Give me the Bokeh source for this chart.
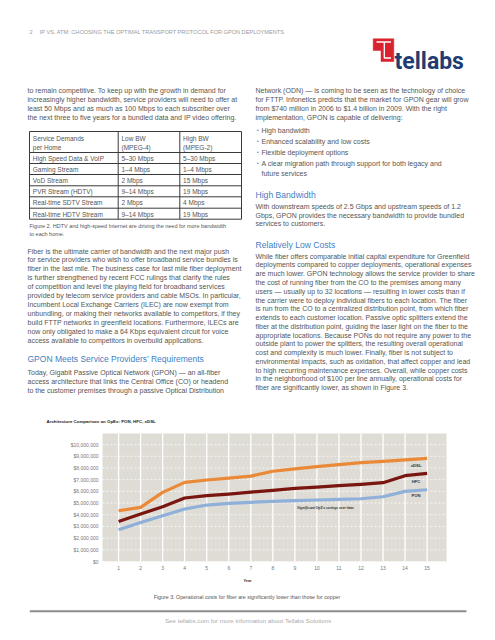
from bokeh.plotting import figure
from bokeh.models import Range1d, FixedTicker, NumeralTickFormatter
from bokeh.embed import file_html
from bokeh.resources import INLINE
from bokeh.core.properties import value

# ---------------- chart data ----------------
years = list(range(1, 16))
xdsl = [4340000, 4630000, 5910000, 6770000, 6970000, 7140000, 7300000, 7720000,
        7920000, 8110000, 8290000, 8460000, 8570000, 8690000, 8830000]
hfc = [3430000, 4060000, 4690000, 5430000, 5630000, 5770000, 5940000, 6090000,
       6260000, 6370000, 6490000, 6600000, 6740000, 7340000, 7540000]
pon = [2720000, 3340000, 3920000, 4490000, 4830000, 4970000, 5060000, 5140000,
       5200000, 5260000, 5310000, 5370000, 5540000, 6000000, 6140000]
series_names = ["xDSL", "HFC", "PON"]
y_ticks = [0, 1000000, 2000000, 3000000, 4000000, 5000000, 6000000, 7000000,
           8000000, 9000000, 10000000]
chart_title = "Architecture Comparison on OpEx: PON, HFC, xDSL"
note_text = "Significant OpEx savings over time"

# ---------------- page text ----------------
header_num = "2"
header_text = "IP VS. ATM: CHOOSING THE OPTIMAL TRANSPORT PROTOCOL FOR GPON DEPLOYMENTS"
para1 = ["to remain competitive. To keep up with the growth in demand for",
         "increasingly higher bandwidth, service providers will need to offer at",
         "least 50 Mbps and as much as 100 Mbps to each subscriber over",
         "the next three to five years for a bundled data and IP video offering."]
table_rows = [["Service Demands|per Home", "Low BW|(MPEG-4)", "High BW|(MPEG-2)"],
              ["High Speed Data & VoIP", "5\u201330 Mbps", "5\u201330 Mbps"],
              ["Gaming Stream", "1\u20134 Mbps", "1\u20134 Mbps"],
              ["VoD Stream", "2 Mbps", "15 Mbps"],
              ["PVR Stream (HDTV)", "9\u201314 Mbps", "19 Mbps"],
              ["Real-time SDTV Stream", "2 Mbps", "4 Mbps"],
              ["Real-time HDTV Stream", "9\u201314 Mbps", "19 Mbps"]]
fig2_caption = ["Figure 2. HDTV and high-speed Internet are driving the need for more bandwidth",
                "to each home."]
para2 = ["Fiber is the ultimate carrier of bandwidth and the next major push",
         "for service providers who wish to offer broadband service bundles is",
         "fiber in the last mile. The business case for last mile fiber deployment",
         "is further strengthened by recent FCC rulings that clarify the rules",
         "of competition and level the playing field for broadband services",
         "provided by telecom service providers and cable MSOs. In particular,",
         "Incumbent Local Exchange Carriers (ILEC) are now exempt from",
         "unbundling, or making their networks available to competitors, if they",
         "build FTTP networks in greenfield locations. Furthermore, ILECs are",
         "now only obligated to make a 64 Kbps equivalent circuit for voice",
         "access available to competitors in overbuild applications."]
heading1 = "GPON Meets Service Providers\u2019 Requirements"
para3 = ["Today, Gigabit Passive Optical Network (GPON) \u2014 an all-fiber",
         "access architecture that links the Central Office (CO) or headend",
         "to the customer premises through a passive Optical Distribution"]
para4 = ["Network (ODN) \u2014 is coming to be seen as the technology of choice",
         "for FTTP. Infonetics predicts that the market for GPON gear will grow",
         "from $740 million in 2006 to $1.4 billion in 2009. With the right",
         "implementation, GPON is capable of delivering:"]
bullets = ["High bandwidth", "Enhanced scalability and low costs",
           "Flexible deployment options",
           "A clear migration path through support for both legacy and"]
bullet_cont = "future services"
heading2 = "High Bandwidth"
para5 = ["With downstream speeds of 2.5 Gbps and upstream speeds of 1.2",
         "Gbps, GPON provides the necessary bandwidth to provide bundled",
         "services to customers."]
heading3 = "Relatively Low Costs"
para6 = ["While fiber offers comparable initial capital expenditure for Greenfield",
         "deployments compared to copper deployments, operational expenses",
         "are much lower. GPON technology allows the service provider to share",
         "the cost of running fiber from the CO to the premises among many",
         "users \u2014 usually up to 32 locations \u2014 resulting in lower costs than if",
         "the carrier were to deploy individual fibers to each location. The fiber",
         "is run from the CO to a centralized distribution point, from which fiber",
         "extends to each customer location. Passive optic splitters extend the",
         "fiber at the distribution point, guiding the laser light on the fiber to the",
         "appropriate locations. Because PONs do not require any power to the",
         "outside plant to power the splitters, the resulting overall operational",
         "cost and complexity is much lower. Finally, fiber  is not subject to",
         "environmental impacts, such as oxidation, that affect copper and lead",
         "to high recurring maintenance expenses. Overall, while copper costs",
         "in the neighborhood of $100 per line annually, operational costs for",
         "fiber are significantly lower, as shown in Figure 3."]
fig3_caption = "Figure 3. Operational costs for fiber are significantly lower than those for copper"
footer_text = "See tellabs.com for more information about Tellabs Solutions"
logo_text = "tellabs"

FONT = "Liberation Sans"
BODY = "#555555"
BLUE = "#3f7fc2"
BODY_SIZE = "7px"

# ---------------- page / chart geometry (page pixels; the page body has no margin) ----------------
W, H = 494, 639
FL, FR, FT, FB = 102, 446, 433, 561          # chart area on the page
XR = (0.27, 15.88)                           # chart x extent (years)
YR = (0, 10950000)                           # chart y extent (dollars)


def dx(px):
    return XR[0] + (px - FL) * (XR[1] - XR[0]) / (FR - FL)


def dy(py):
    return YR[0] + (FB - py) * (YR[1] - YR[0]) / (FB - FT)


p = figure(width=W, height=H, x_range=Range1d(dx(0), dx(W)),
           y_range=Range1d(dy(H), dy(0)), output_backend="svg",
           toolbar_location=None, min_border=0)
p.background_fill_color = "white"
p.border_fill_color = "white"
p.outline_line_color = None
p.grid.visible = False


def txt_many(xs, ys, items, size=BODY_SIZE, color=BODY, style="normal", align="left",
             font=FONT, baseline="middle"):
    p.text(x=[dx(v) for v in xs], y=[dy(v) for v in ys], text=items, text_font=value(font),
           text_font_size=size, text_color=color, text_font_style=style,
           text_align=align, text_baseline=baseline)


def lines(x, y0, step, items, **kw):
    txt_many([x] * len(items), [y0 + i * step for i in range(len(items))], items, **kw)


def seg(xs, ys, color="#3a3a3a", width=1.0):
    p.line([dx(v) for v in xs], [dy(v) for v in ys], line_color=color, line_width=width)


# ---------------- chart ----------------
p.quad(left=[XR[0]], right=[XR[1]], bottom=[YR[0]], top=[YR[1]],
       fill_color="#dfdbd5", line_color=None)
p.segment(x0=years, y0=[YR[0]] * len(years), x1=years, y1=[YR[1]] * len(years),
          line_color="white", line_width=1.3)
p.segment(x0=[XR[0]] * len(y_ticks), y0=y_ticks, x1=[XR[1]] * len(y_ticks), y1=y_ticks,
          line_color="white", line_width=0.8, line_dash="2 2")

colors = ["#ea8a39", "#7a1610", "#8fb0d9"]
for ys, col in zip([xdsl, hfc, pon], colors):
    p.line(years, ys, line_color=col, line_width=3.2, line_join="round")

label_x = [years[-1] - 0.5] * 3
label_y = [xdsl[-1] - 630000, hfc[-1] - 680000, pon[-1] - 510000]
p.text(x=label_x, y=label_y, text=series_names, text_font=value(FONT), text_font_size="4.2px",
       text_font_style="bold", text_color="#333333", text_align="center", text_baseline="middle")
p.text(x=[9.1], y=[4540000], text=[note_text], text_font=value("Liberation Serif"),
       text_font_size="3.9px", text_font_style="bold italic", text_color="#333333",
       text_baseline="middle")

p.xaxis.fixed_location = YR[0]
p.yaxis.fixed_location = XR[0]
p.xaxis.ticker = FixedTicker(ticks=years)
p.yaxis.ticker = FixedTicker(ticks=y_ticks)
p.yaxis.formatter = NumeralTickFormatter(format="$0,0")
for ax in (p.xaxis, p.yaxis):
    ax.axis_line_color = None
    ax.major_tick_line_color = None
    ax.minor_tick_line_color = None
    ax.major_tick_out = 0
    ax.major_tick_in = 0
    ax.major_label_text_font = FONT
    ax.major_label_text_font_size = "5px"
    ax.major_label_text_color = "#777777"
p.yaxis.major_label_standoff = 4
p.xaxis.major_label_standoff = 4
p.xaxis.axis_label = "Year"
p.xaxis.axis_label_text_font = FONT
p.xaxis.axis_label_text_font_size = "3.9px"
p.xaxis.axis_label_text_font_style = "bold"
p.xaxis.axis_label_text_color = "#333333"
p.xaxis.axis_label_standoff = 5

txt_many([46], [421], [chart_title], size="4.4px", color="#222222", style="bold")

# ---------------- header and logo ----------------
txt_many([29, 39.3], [31.7, 31.7], [header_num, header_text], size="5.6px", color="#9a9a9a")
p.patch([dx(v) for v in [372.7, 393.3, 393.3, 380.5, 380.5, 372.7]],
        [dy(v) for v in [38.3, 38.3, 61, 61, 50, 50]],
        fill_color="#d9232e", line_color="#d9232e", line_width=0.5)
seg([376, 390.5], [41.5, 41.5], color="white", width=1.3)
seg([383.8, 383.8, 390.5], [41.5, 57.5, 57.5], color="white", width=1.3)
txt_many([394], [61], [logo_text], size="23px", color="#1f3d72", style="bold",
         font="Roboto", baseline="alphabetic")

# ---------------- left column ----------------
lines(27, 90, 9, para1)
tx = [29, 117.7, 179.3, 241]
ty = [131, 152, 163, 174, 185.3, 196.3, 207.7, 218.7]
for yy in ty:
    seg([tx[0], tx[-1]], [yy, yy])
for xx in tx:
    seg([xx, xx], [ty[0], ty[-1]])
for r, row in enumerate(table_rows):
    for c, cell in enumerate(row):
        parts = cell.split("|")
        if r == 0:
            lines(tx[c] + 3.3, 137.7, 9, parts, size="6.5px")
        else:
            lines(tx[c] + 3.3, (ty[r] + ty[r + 1]) / 2 + 0.3, 0, parts, size="6.5px")
lines(29, 225.7, 7.6, fig2_caption, size="5.5px")
lines(27, 250.5, 8.9, para2)
txt_many([27], [358.3], [heading1], size="8.5px", color=BLUE)
lines(27, 371.7, 9, para3)

# ---------------- right column ----------------
lines(255, 90, 8.9, para4)
bullet_y = [130, 141, 152.2, 163.2]
txt_many([256.2] * 4, [b - 0.3 for b in bullet_y], ["\u2022"] * 4, size="6px", color="#8a8a8a")
txt_many([261] * 4, bullet_y, bullets)
txt_many([261], [172.6], [bullet_cont])
txt_many([255], [194], [heading2], size="8.6px", color=BLUE)
lines(255, 205.7, 8.8, para5)
txt_many([255], [244], [heading3], size="8.6px", color=BLUE)
lines(255, 255.7, 8.77, para6)

# ---------------- bottom of page ----------------
txt_many([246.5], [596], [fig3_caption], size="5.3px", align="center")
seg([29.3, 466], [610.8, 610.8], color="#8c8c8c", width=2)
txt_many([247.7], [620], [footer_text], size="6.2px", color="#aaaaaa", align="center")

open("out.html", "w").write(file_html(p, INLINE))
